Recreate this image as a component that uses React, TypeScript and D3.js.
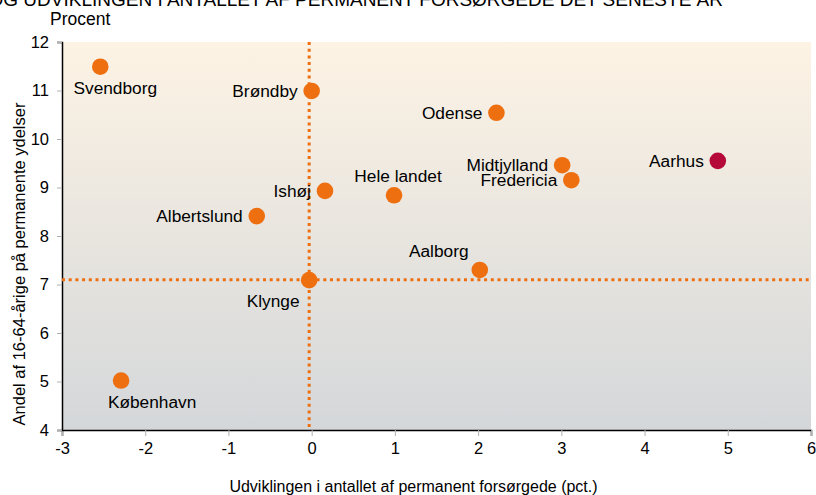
import * as d3 from "d3";
import { useEffect, useRef } from "react";

// Values
const kommuner = [
  "Svendborg",
  "Brøndby",
  "Odense",
  "Midtjylland",
  "Fredericia",
  "Aarhus",
  "Hele landet",
  "Ishøj",
  "Albertslund",
  "Aalborg",
  "Klynge",
  "København",
];
const udvikling = [-2.54, 0.0, 2.22, 3.01, 3.12, 4.88, 0.99, 0.16, -0.66, 2.02, -0.03, -2.29];
const andel = [11.49, 10.99, 10.54, 9.46, 9.15, 9.55, 8.84, 8.93, 8.41, 7.3, 7.09, 5.02];
// label placement: l = left of point, b = below, a = above
const placering = ["b", "l", "l", "l", "l", "l", "a", "l", "l", "a", "bl", "b"];

const xTicks = [-3, -2, -1, 0, 1, 2, 3, 4, 5, 6];
const yTicks = [4, 5, 6, 7, 8, 9, 10, 11, 12];
const refX = -0.03;
const refY = 7.1;

const orange = "#ee6f10";
const highlight = "#b5093a";

const App = () => {
  const svgRef = useRef(null);
  const width = 816;
  const height = 495;

  useEffect(() => {
    const parent = d3.select(svgRef.current).attr("viewBox", `0, 0, ${width}, ${height}`);
    parent.selectAll("*").remove();

    const margin = { top: 42, right: 5, bottom: 65, left: 62 };
    const innerWidth = width - margin.left - margin.right;
    const innerHeight = height - margin.top - margin.bottom;
    const font = "'Liberation Sans', Arial, sans-serif";

    const defs = parent.append("defs");
    const grad = defs
      .append("linearGradient")
      .attr("id", "bg")
      .attr("x1", 0)
      .attr("y1", 0)
      .attr("x2", 0)
      .attr("y2", 1);
    grad.append("stop").attr("offset", "0%").attr("stop-color", "#fdf3e4");
    grad.append("stop").attr("offset", "100%").attr("stop-color", "#d4d7da");

    // title, cut off at the top of the page as in the reference
    parent
      .append("text")
      .attr("x", 723)
      .attr("y", 6)
      .attr("text-anchor", "end")
      .attr("font-family", font)
      .attr("font-size", 19)
      .attr("fill", "#000")
      .text("ANDEL PÅ PERMANENTE YDELSER OG UDVIKLINGEN I ANTALLET AF PERMANENT FORSØRGEDE DET SENESTE ÅR");

    parent
      .append("text")
      .attr("x", 50)
      .attr("y", 25)
      .attr("font-family", font)
      .attr("font-size", 17.5)
      .text("Procent");

    const svg = parent
      .append("g")
      .attr("transform", "translate(" + margin.left + "," + margin.top + ")");

    const xScale = d3.scaleLinear().domain([-3, 6]).range([0, innerWidth]);
    const yScale = d3.scaleLinear().domain([4, 12]).range([innerHeight, 0]);

    svg
      .append("rect")
      .attr("width", innerWidth)
      .attr("height", innerHeight)
      .attr("fill", "url(#bg)");

    const xAxis = svg
      .append("g")
      .attr("transform", "translate(0," + innerHeight + ")")
      .call(d3.axisBottom(xScale).tickValues(xTicks).tickSize(6).tickPadding(6).tickFormat((d: any) => String(d)));
    const yAxis = svg
      .append("g")
      .call(d3.axisLeft(yScale).tickValues(yTicks).tickSize(5).tickPadding(8).tickFormat((d: any) => String(d)));

    [xAxis, yAxis].forEach((ax) => {
      ax.select(".domain").attr("stroke", "#000").attr("stroke-width", 1.5);
      ax.selectAll(".tick line").attr("stroke", "#b0b0b0");
      ax.selectAll(".tick text")
        .attr("font-family", font)
        .attr("font-size", 16.5)
        .attr("fill", "#000");
    });

    // reference lines
    svg
      .append("line")
      .attr("x1", 0)
      .attr("x2", innerWidth)
      .attr("y1", yScale(refY))
      .attr("y2", yScale(refY))
      .attr("stroke", orange)
      .attr("stroke-width", 3)
      .attr("stroke-dasharray", "3 3.7");
    svg
      .append("line")
      .attr("x1", xScale(refX))
      .attr("x2", xScale(refX))
      .attr("y1", 0)
      .attr("y2", innerHeight)
      .attr("stroke", orange)
      .attr("stroke-width", 3)
      .attr("stroke-dasharray", "3 3.7");

    const points = kommuner.map((k, i) => ({
      name: k,
      x: udvikling[i],
      y: andel[i],
      pos: placering[i],
    }));

    svg
      .selectAll("circle.pt")
      .data(points)
      .join("circle")
      .attr("class", "pt")
      .attr("cx", (d) => xScale(d.x))
      .attr("cy", (d) => yScale(d.y))
      .attr("r", 8.3)
      .attr("fill", (d) => (d.name === "Aarhus" ? highlight : orange));

    svg
      .selectAll("text.lbl")
      .data(points)
      .join("text")
      .attr("class", "lbl")
      .attr("font-family", font)
      .attr("font-size", 17.3)
      .attr("fill", "#000")
      .attr("x", (d) => {
        const cx = xScale(d.x);
        if (d.pos === "l") return cx - 14;
        if (d.pos === "bl") return cx - 36;
        if (d.pos === "a") return d.name === "Aalborg" ? cx - 41 : cx + 4;
        return cx + 15 + (d.name === "København" ? 16 : 0);
      })
      .attr("y", (d) => {
        const cy = yScale(d.y);
        if (d.pos === "l") return cy + 6;
        if (d.pos === "a") return cy - 13;
        return cy + 27;
      })
      .attr("text-anchor", (d) => (d.pos === "l" ? "end" : "middle"))
      .text((d) => d.name);

    parent
      .append("text")
      .attr("x", margin.left + innerWidth / 2 - 23)
      .attr("y", 492)
      .attr("text-anchor", "middle")
      .attr("font-family", font)
      .attr("font-size", 16)
      .text("Udviklingen i antallet af permanent forsørgede (pct.)");

    parent
      .append("text")
      .attr("transform", "translate(25," + (margin.top + 222) + ") rotate(-90)")
      .attr("text-anchor", "middle")
      .attr("font-family", font)
      .attr("font-size", 16.5)
      .text("Andel af 16-64-årige på permanente ydelser");
  }, []);

  return (
    <svg
      width={width}
      height={height}
      ref={svgRef}
      style={{ position: "absolute", left: 0, top: 0, background: "#fff", overflow: "hidden" }}
    />
  );
};

export default App;
